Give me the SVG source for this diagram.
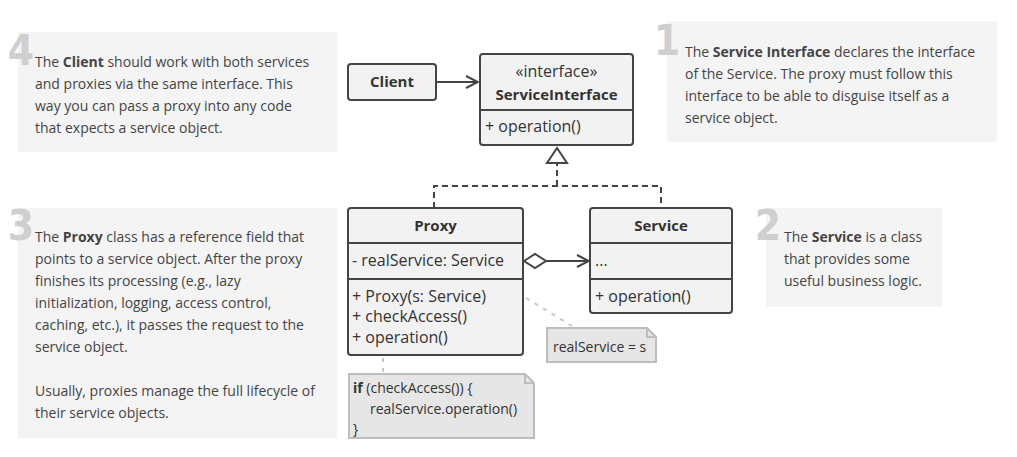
<svg xmlns="http://www.w3.org/2000/svg" width="1017" height="457" viewBox="0 0 1017 457">
  <style>
    .panel { fill: #f4f4f4; }
    .num { font-family: "DejaVu Sans Condensed", "DejaVu Sans", sans-serif; font-weight: bold; font-size: 42px; fill: #cfcfcf; text-anchor: end; }
    .txt { font-family: "Open Sans", "Liberation Sans", sans-serif; font-size: 14px; fill: #444; }
    .b { font-weight: bold; }
    .box { fill: #f2f2f2; stroke: #444; stroke-width: 2; }
    .div { stroke: #444; stroke-width: 2; }
    .lbl { font-family: "Open Sans", "Liberation Sans", sans-serif; font-size: 16px; fill: #333; }
    .title { font-weight: bold; font-size: 15px; text-anchor: middle; }
    .note { fill: #e6e6e6; stroke: #bdbdbd; stroke-width: 2; }
    .ntxt { font-family: "Open Sans", "Liberation Sans", sans-serif; font-size: 14px; fill: #333; }
    .link { fill: none; stroke: #444; stroke-width: 2; }
    .dash { stroke-dasharray: 6 4; }
    .anchor { fill: none; stroke: #c8c8c8; stroke-width: 2; stroke-dasharray: 4 6; }
  </style>
  <defs>
    <marker id="open" viewBox="0 0 14 14" refX="13" refY="7" markerWidth="14" markerHeight="14" markerUnits="userSpaceOnUse" orient="auto">
      <path d="M1,1 L13,7 L1,13" fill="none" stroke="#444" stroke-width="2"/>
    </marker>
  </defs>

  <!-- explanatory panels -->
  <g id="panel-4">
    <rect class="panel" x="18" y="32" width="319" height="120"/>
    <text class="num" x="34" y="65">4</text>
    <text class="txt" x="35" y="67">The <tspan class="b">Client</tspan> should work with both services</text>
    <text class="txt" x="35" y="89">and proxies via the same interface. This</text>
    <text class="txt" x="35" y="111">way you can pass a proxy into any code</text>
    <text class="txt" x="35" y="133">that expects a service object.</text>
  </g>
  <g id="panel-1">
    <rect class="panel" x="667" y="21" width="330" height="121"/>
    <text class="num" x="680" y="55">1</text>
    <text class="txt" x="685" y="57">The <tspan class="b">Service Interface</tspan> declares the interface</text>
    <text class="txt" x="685" y="79">of the Service. The proxy must follow this</text>
    <text class="txt" x="685" y="101">interface to be able to disguise itself as a</text>
    <text class="txt" x="685" y="123">service object.</text>
  </g>
  <g id="panel-3">
    <rect class="panel" x="18" y="208" width="319" height="230"/>
    <text class="num" x="34" y="240">3</text>
    <text class="txt" x="35" y="242">The <tspan class="b">Proxy</tspan> class has a reference field that</text>
    <text class="txt" x="35" y="264">points to a service object. After the proxy</text>
    <text class="txt" x="35" y="286">finishes its processing (e.g., lazy</text>
    <text class="txt" x="35" y="308">initialization, logging, access control,</text>
    <text class="txt" x="35" y="330">caching, etc.), it passes the request to the</text>
    <text class="txt" x="35" y="352">service object.</text>
    <text class="txt" x="35" y="396">Usually, proxies manage the full lifecycle of</text>
    <text class="txt" x="35" y="418">their service objects.</text>
  </g>
  <g id="panel-2">
    <rect class="panel" x="766" y="208" width="176" height="99"/>
    <text class="num" x="781" y="240">2</text>
    <text class="txt" x="784" y="242">The <tspan class="b">Service</tspan> is a class</text>
    <text class="txt" x="784" y="264">that provides some</text>
    <text class="txt" x="784" y="286">useful business logic.</text>
  </g>

  <!-- connectors -->
  <g id="connectors">
    <line class="link" x1="437" y1="82" x2="478" y2="82" marker-end="url(#open)"/>
    <path class="link dash" d="M434,208 V186 H661 V208"/>
    <line class="link dash" x1="557" y1="186" x2="557" y2="163"/>
    <polygon points="557,148 567,163 547,163" fill="#fff" stroke="#444" stroke-width="2"/>
    <polygon points="524,261 535,254 546,261 535,268" fill="#fff" stroke="#444" stroke-width="2"/>
    <line class="link" x1="546" y1="261" x2="589" y2="261" marker-end="url(#open)"/>
    <line class="anchor" x1="526" y1="298" x2="572" y2="326"/>
    <line class="anchor" x1="383" y1="358" x2="383" y2="372"/>
  </g>

  <!-- classes -->
  <g id="client">
    <rect class="box" x="348" y="64" width="88" height="36" rx="3"/>
    <text class="lbl title" x="392" y="87">Client</text>
  </g>
  <g id="service-interface">
    <rect class="box" x="480" y="54" width="153" height="91" rx="3"/>
    <line class="div" x1="480" y1="110" x2="633" y2="110"/>
    <text class="lbl" x="556.5" y="77" text-anchor="middle">«interface»</text>
    <text class="lbl title" x="556.5" y="100">ServiceInterface</text>
    <text class="lbl" x="485" y="132">+ operation()</text>
  </g>
  <g id="proxy">
    <rect class="box" x="348" y="208" width="175" height="147" rx="3"/>
    <line class="div" x1="348" y1="243" x2="523" y2="243"/>
    <line class="div" x1="348" y1="279" x2="523" y2="279"/>
    <text class="lbl title" x="435.5" y="231">Proxy</text>
    <text class="lbl" x="352" y="266">- realService: Service</text>
    <text class="lbl" x="352" y="302">+ Proxy(s: Service)</text>
    <text class="lbl" x="352" y="322">+ checkAccess()</text>
    <text class="lbl" x="352" y="343">+ operation()</text>
  </g>
  <g id="service">
    <rect class="box" x="590" y="208" width="142" height="105" rx="3"/>
    <line class="div" x1="590" y1="243" x2="732" y2="243"/>
    <line class="div" x1="590" y1="279" x2="732" y2="279"/>
    <text class="lbl title" x="661" y="231">Service</text>
    <text class="lbl" x="595" y="266">...</text>
    <text class="lbl" x="595" y="302">+ operation()</text>
  </g>

  <!-- notes -->
  <g id="note-constructor">
    <path class="note" d="M547,328 H647 L656,337 V362 H547 Z"/>
    <path d="M647,328 V337 H656" fill="none" stroke="#bdbdbd" stroke-width="2"/>
    <text class="ntxt" x="553" y="352">realService = s</text>
  </g>
  <g id="note-operation">
    <path class="note" d="M349,374 H525 L534,383 V438 H349 Z"/>
    <path d="M525,374 V383 H534" fill="none" stroke="#bdbdbd" stroke-width="2"/>
    <text class="ntxt" x="353" y="393"><tspan class="b">if</tspan> (checkAccess()) {</text>
    <text class="ntxt" x="370" y="414">realService.operation()</text>
    <text class="ntxt" x="353" y="434">}</text>
  </g>
</svg>
